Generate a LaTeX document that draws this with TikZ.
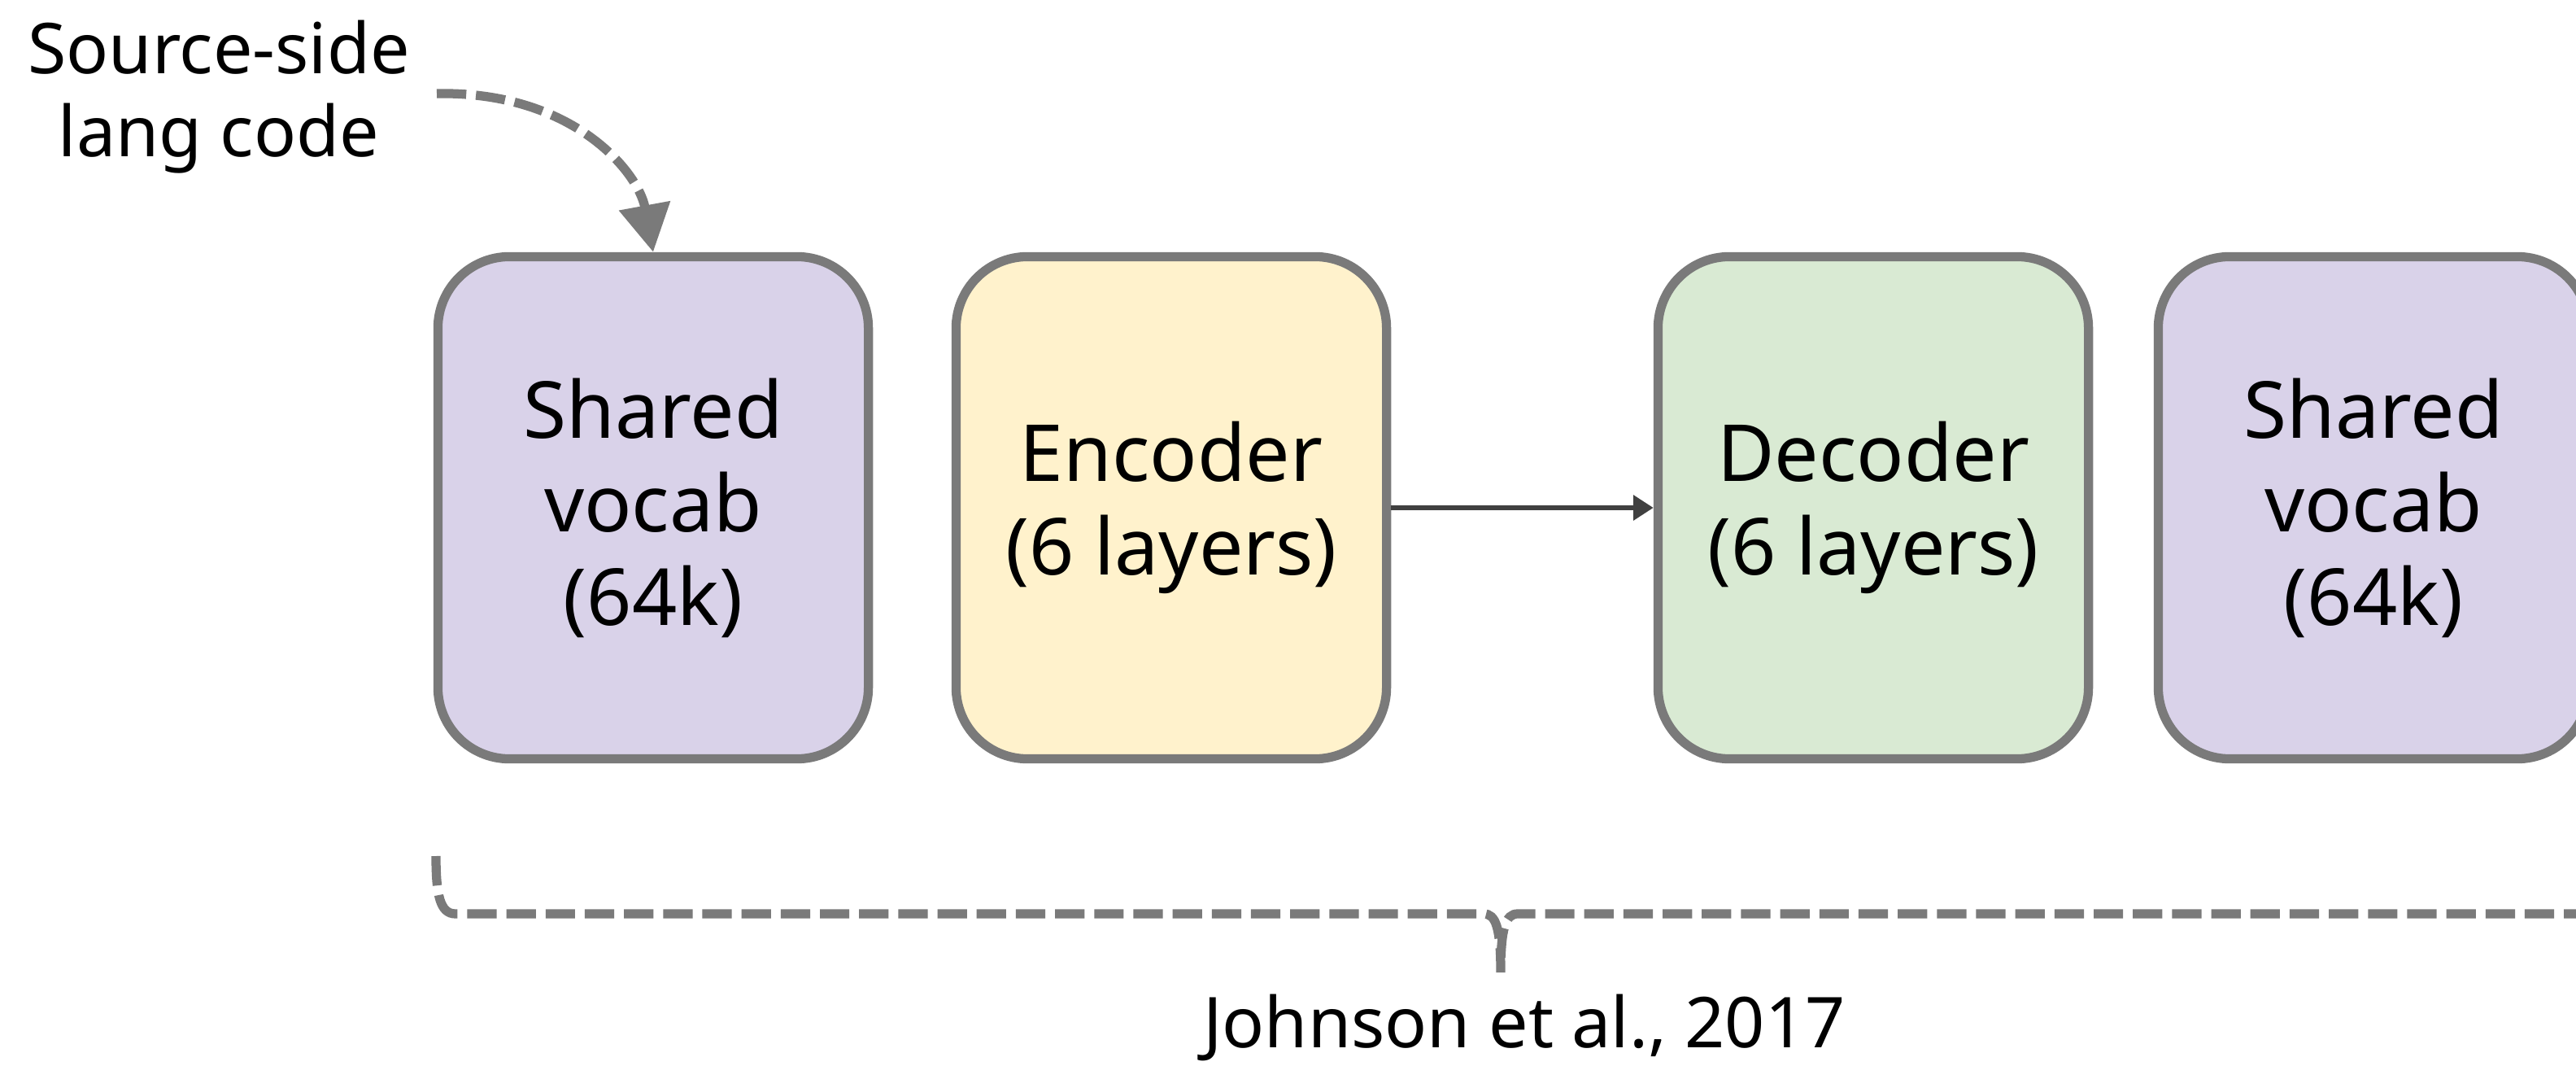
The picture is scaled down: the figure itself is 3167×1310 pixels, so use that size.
\documentclass[tikz,border=0pt]{standalone}
\usepackage{fontspec}
\setmainfont{Noto Sans}
\usetikzlibrary{arrows.meta}
\definecolor{edgegray}{HTML}{7A7A7A}
\definecolor{vocabfill}{HTML}{D9D2E9}
\definecolor{encfill}{HTML}{FFF2CC}
\definecolor{decfill}{HTML}{D9EAD3}
\definecolor{flowdark}{HTML}{404040}
\begin{document}
\begin{tikzpicture}[x=0.01cm,y=-0.01cm,
  block/.style={draw=edgegray, line width=3.2pt, rounded corners=25pt,
    minimum width=150.5pt, minimum height=175.5pt, inner sep=0pt,
    align=center, font=\fontsize{27.5}{32.7}\selectfont},
  caption/.style={align=center, inner sep=0pt, font=\fontsize{24.5}{29}\selectfont},
  guide/.style={draw=edgegray, line width=3.2pt, dash pattern=on 10.3pt off 3.4pt},
  flow/.style={draw=flowdark, line width=1.7pt, -{Triangle[length=7pt,width=8.5pt]}}
]
\useasboundingbox (0,0) rectangle (3167,1310);

% model blocks
\node[block, fill=vocabfill] (vin)  at (803,624)  {Shared\\vocab\\(64k)};
\node[block, fill=encfill]   (enc)  at (1440,624) {Encoder\\(6 layers)};
\node[block, fill=decfill]   (dec)  at (2303,624) {Decoder\\(6 layers)};
\node[block, fill=vocabfill] (vout) at (2918,624) {Shared\\vocab\\(64k)};

\draw[flow] (enc.east) -- (dec.west);

% language-code annotation
\node[caption] (lang) at (269,119) {Source-side\\lang code};
\coordinate (langout) at (537,115);
\draw[guide, -{Triangle[length=16.5pt,width=17.5pt]}]
  (langout) .. controls (705,112) and (785,212) .. (vin.north);

% dashed brace under the whole model
\coordinate (bl) at (536,1052);
\coordinate (bt) at (1845,1195);
\coordinate (br) at (3260,1052);
\draw[guide] (bl) .. controls (536,1100) and (541,1123) .. (560,1123)
  -- (1824,1123) .. controls (1839,1123) and (1845,1140) .. (bt)
  .. controls (1845,1140) and (1851,1123) .. (1866,1123)
  -- (3230,1123) .. controls (3250,1123) and (3260,1100) .. (br);

\node[caption, anchor=base] (cite) at (1874,1287) {Johnson et al., 2017};
\end{tikzpicture}
\end{document}
